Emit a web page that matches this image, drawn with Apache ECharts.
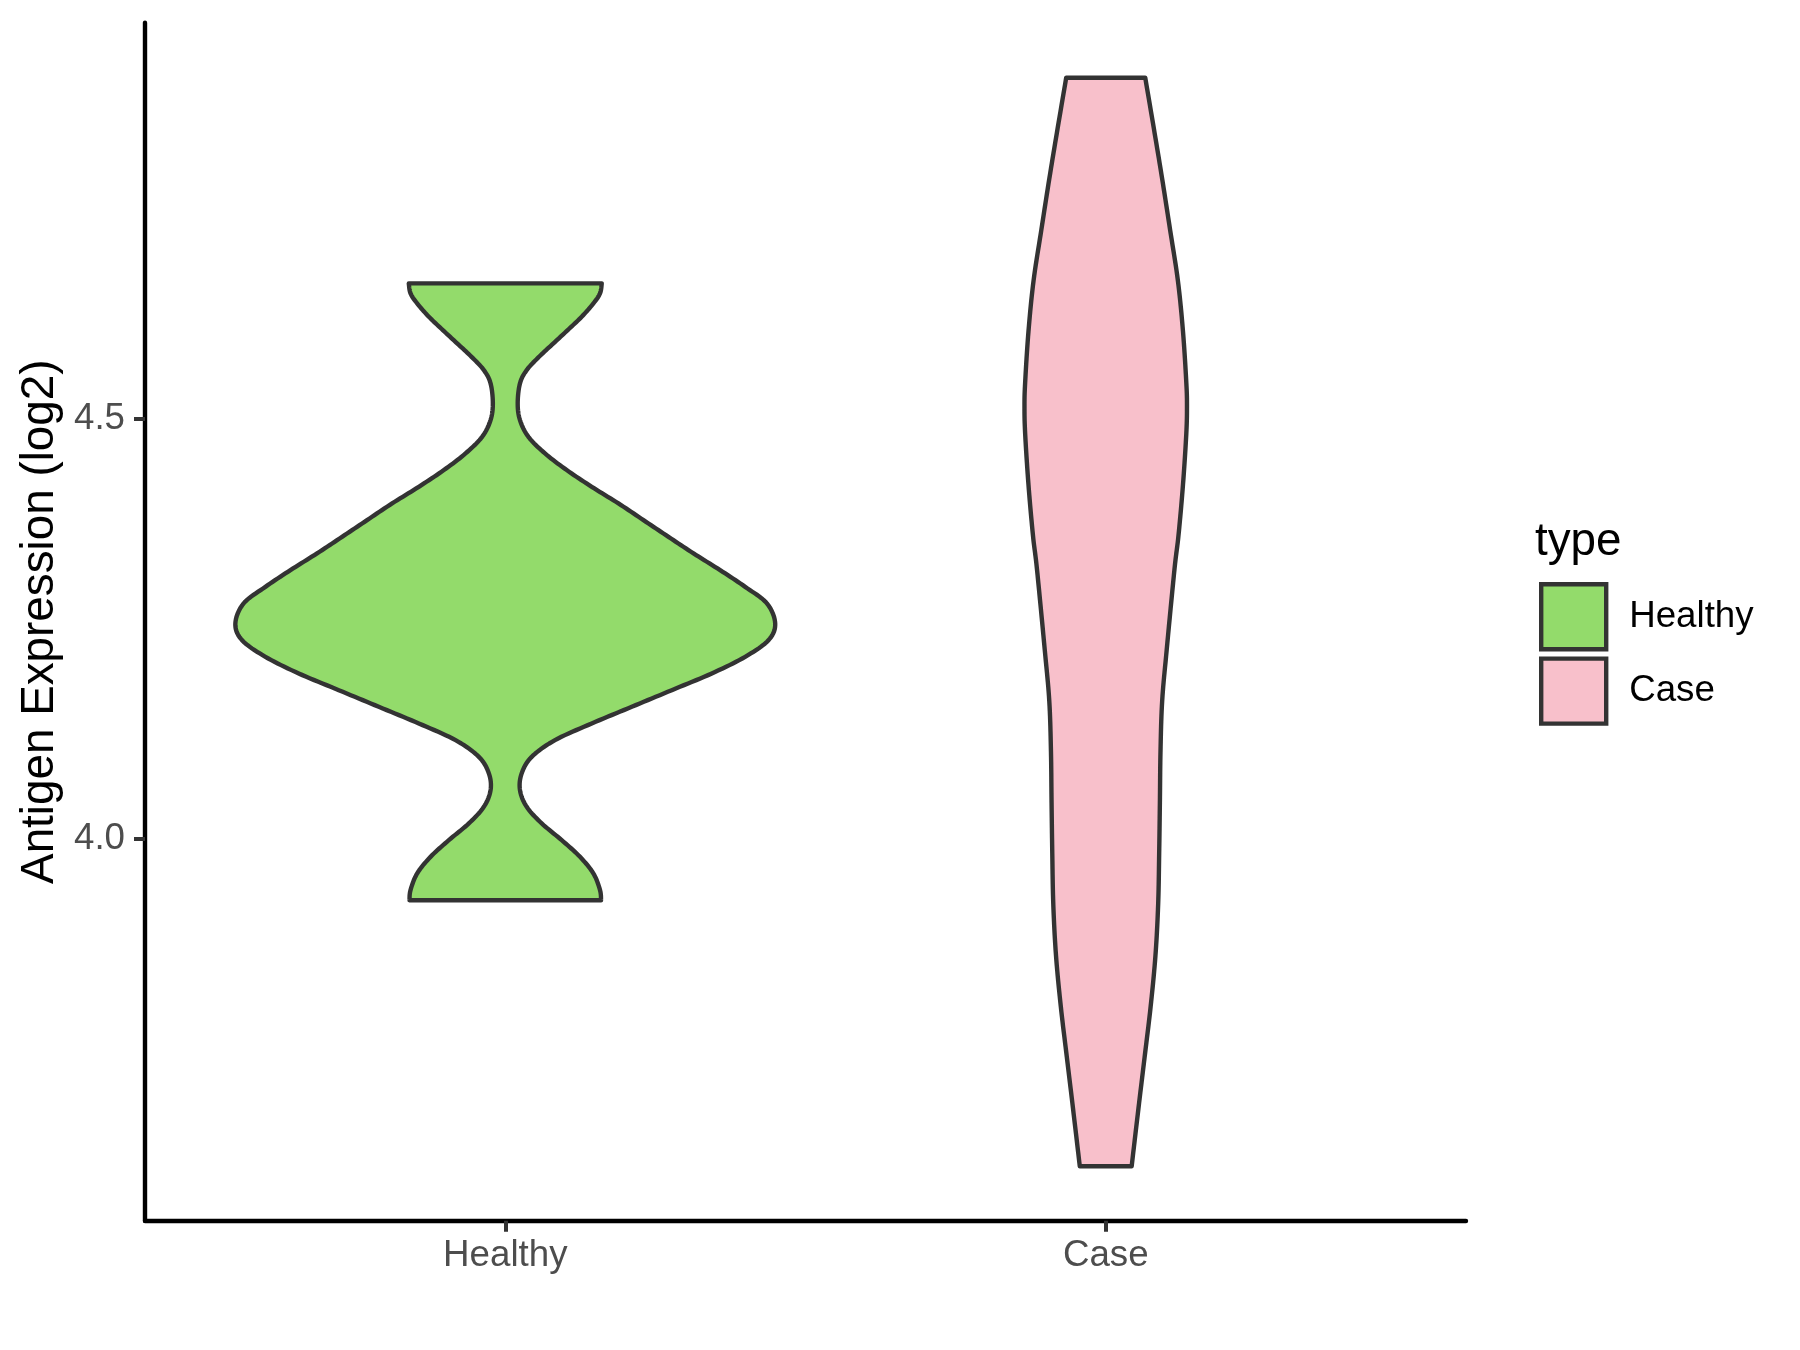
<!DOCTYPE html>
<html><head><meta charset="utf-8">
<script src="https://cdn.jsdelivr.net/npm/echarts@6/dist/echarts.min.js"></script>
<style>html,body{margin:0;padding:0;background:#fff}#chart{width:1800px;height:1350px}</style>
</head><body><div id="chart"></div>
<script>
// ---- data ----
const categories = ['Healthy', 'Case'];
const categoryPositions = [1, 2];
// violin outline: expression value (top -> bottom) and half-width (in category units)
const healthyValues = [4.6607,4.6488,4.6369,4.6210,4.6051,4.5893,4.5733,4.5575,4.5417,4.5179,4.4980,4.4781,4.4583,4.4385,4.4186,4.3988,4.3789,4.3590,4.3393,4.3194,4.2995,4.2798,4.2560,4.2361,4.2162,4.1964,4.1765,4.1567,4.1369,4.1170,4.0971,4.0774,4.0575,4.0376,4.0179,3.9980,3.9781,3.9583,3.9385,3.9265];
const healthyHalfWidths = [0.1607,0.1578,0.1468,0.1273,0.1040,0.0802,0.0562,0.0357,0.0245,0.0207,0.0245,0.0385,0.0662,0.1023,0.1440,0.1885,0.2302,0.2718,0.3135,0.3578,0.3995,0.4357,0.4495,0.4385,0.3995,0.3440,0.2773,0.2107,0.1440,0.0828,0.0440,0.0273,0.0245,0.0357,0.0607,0.0940,0.1245,0.1468,0.1578,0.1595];
const caseValues = [4.9055,4.8457,4.7851,4.7245,4.6639,4.6032,4.5426,4.5144,4.4820,4.4214,4.3608,4.3204,4.2242,4.1636,4.1030,4.0424,3.9817,3.9211,3.8605,3.7999,3.7393,3.6787,3.6099];
const caseHalfWidths = [0.0658,0.0800,0.0940,0.1072,0.1202,0.1287,0.1342,0.1353,0.1342,0.1287,0.1212,0.1145,0.1015,0.0940,0.0912,0.0902,0.0890,0.0873,0.0828,0.0748,0.0647,0.0545,0.0432];
const yTickValues = [4.0, 4.5];
const yTickLabels = ['4.0', '4.5'];
const fillColors = ['#93DB6B', '#F8C0CB'];

const profiles = [
  { values: healthyValues, halfWidths: healthyHalfWidths },
  { values: caseValues, halfWidths: caseHalfWidths }
];

const FONT = "'Liberation Sans', Arial, sans-serif";

// Catmull-Rom smoothing of a pixel polyline (rendering only)
function smoothLine(pts, n) {
  const out = [pts[0]];
  for (let i = 0; i < pts.length - 1; i++) {
    const p0 = pts[i - 1] || pts[i], p1 = pts[i], p2 = pts[i + 1], p3 = pts[i + 2] || pts[i + 1];
    for (let k = 1; k <= n; k++) {
      const t = k / n, t2 = t * t, t3 = t2 * t;
      const f = (a, b, c, d) => 0.5 * (2 * b + (-a + c) * t + (2 * a - 5 * b + 4 * c - d) * t2 + (-a + 3 * b - 3 * c + d) * t3);
      out.push([f(p0[0], p1[0], p2[0], p3[0]), f(p0[1], p1[1], p2[1], p3[1])]);
    }
  }
  return out;
}

function makeRenderItem(idx) {
  return function (params, api) {
    const c = categoryPositions[idx];
    const prof = profiles[idx];
    const left = prof.values.map((v, i) => api.coord([c - prof.halfWidths[i], v]));
    const right = prof.values.map((v, i) => api.coord([c + prof.halfWidths[i], v]));
    const pts = smoothLine(left, 10).concat(smoothLine(right, 10).reverse());
    return {
      type: 'polygon',
      shape: { points: pts },
      style: { fill: fillColors[idx], stroke: '#333333', lineWidth: 4.4, lineJoin: 'round' }
    };
  };
}

const chart = echarts.init(document.getElementById('chart'), null, { renderer: 'canvas' });
chart.setOption({
  backgroundColor: '#ffffff',
  animation: false,
  grid: { left: 145, right: 334, top: 22.7, bottom: 129.3, containLabel: false },
  xAxis: {
    type: 'value', min: 0.4, max: 2.6,
    axisLine: { show: true, onZero: false, lineStyle: { color: '#000', width: 4.4 } },
    axisTick: { show: true, customValues: categoryPositions, length: 11, lineStyle: { color: '#333333', width: 4 } },
    axisLabel: {
      customValues: categoryPositions,
      formatter: v => categories[categoryPositions.indexOf(v)],
      fontSize: 36.7, color: '#4D4D4D', fontFamily: FONT, margin: 17
    },
    splitLine: { show: false }
  },
  yAxis: {
    type: 'value', min: 3.545, max: 4.971,
    name: 'Antigen Expression (log2)', nameLocation: 'middle', nameRotate: 90, nameGap: 79,
    nameTextStyle: { fontSize: 45.8, color: '#000', fontFamily: FONT },
    axisLine: { show: true, lineStyle: { color: '#000', width: 4.4 } },
    axisTick: { show: true, customValues: yTickValues, length: 11, lineStyle: { color: '#333333', width: 4 } },
    axisLabel: {
      customValues: yTickValues,
      formatter: v => yTickLabels[yTickValues.indexOf(v)] !== undefined ? yTickLabels[yTickValues.indexOf(v)] : v.toFixed(1),
      fontSize: 36.7, color: '#4D4D4D', fontFamily: FONT, margin: 20
    },
    splitLine: { show: false }
  },
  legend: {
    orient: 'vertical', left: 1539, top: 582, padding: 0,
    itemWidth: 65, itemHeight: 65, itemGap: 5, selectedMode: false, icon: 'rect',
    textStyle: { fontSize: 36.7, color: '#000', fontFamily: FONT, padding: [0, 0, 0, 18] },
    data: categories.map((n, i) => ({ name: n, itemStyle: { color: fillColors[i], borderColor: '#333333', borderWidth: 4.4 } }))
  },
  graphic: [
    { type: 'text', x: 1535, y: 542.5, style: { text: 'type', fontSize: 45.8, fill: '#000', fontFamily: FONT, verticalAlign: 'middle', align: 'left' } }
  ],
  series: categories.map((n, i) => ({
    type: 'custom', name: n, clip: false, silent: true,
    itemStyle: { color: fillColors[i], borderColor: '#333333', borderWidth: 4.4 },
    data: [[categoryPositions[i], profiles[i].values[0]]],
    renderItem: makeRenderItem(i)
  }))
});
</script>
</body></html>
